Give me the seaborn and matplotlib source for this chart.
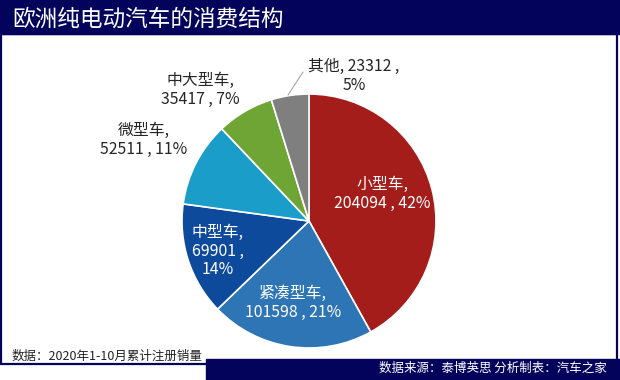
import matplotlib
matplotlib.use("Agg")
import matplotlib.pyplot as plt
from matplotlib.patches import Rectangle
import seaborn as sns

# ---- data ----
categories = ["小型车", "紧凑型车", "中型车", "微型车", "中大型车", "其他"]
values = [204094, 101598, 69901, 52511, 35417, 23312]
percents = ["42%", "21%", "14%", "11%", "7%", "5%"]
title = "欧洲纯电动汽车的消费结构"
note_left = "数据：2020年1-10月累计注册销量"
note_right = "数据来源：泰博英思 分析制表：汽车之家"

# ---- style ----
sns.set_theme(style="white")
plt.rcParams['font.family'] = ['Noto Sans CJK SC', 'DejaVu Sans']

colors = sns.color_palette(["#A51D1A", "#2E75B6", "#0D4A9B", "#1A9DC8", "#6EA535", "#7F7F7F"])
navy = "#03035B"

W, H = 620, 380
fig = plt.figure(figsize=(W / 100, H / 100), dpi=100)
fig.patch.set_facecolor("white")

def px(x, y):
    return x / W, 1 - y / H

# background frame
fig.add_artist(Rectangle(px(0, 34), 1, 34 / H, transform=fig.transFigure, color=navy, zorder=0))
fig.add_artist(Rectangle(px(1, 364), 616 / W, (364 - 34) / H, transform=fig.transFigure,
                         facecolor="none", edgecolor=navy, linewidth=1.6, zorder=0))
fig.add_artist(Rectangle(px(206, 380), (W - 206) / W, 21 / H, transform=fig.transFigure,
                         color=navy, zorder=1))

fig.text(*px(12, 19), title, color="white", fontsize=16.3, ha="left", va="center")
fig.text(*px(12, 356), note_left, color="#222222", fontsize=9, ha="left", va="center")
fig.text(*px(607, 368), note_right, color="white", fontsize=9, ha="right", va="center", zorder=2)

# pie axes: full figure, 1 data unit = radius (127 px), center at (309, 221)
cx, cy, R = 309, 221, 127
ax = fig.add_axes([0, 0, 1, 1])
ax.patch.set_alpha(0)
ax.pie(values, colors=colors, startangle=90, counterclock=False,
       wedgeprops=dict(edgecolor="white", linewidth=1.2))
ax.set_xlim(-cx / R, (W - cx) / R)
ax.set_ylim((cy - H) / R, cy / R)
ax.set_aspect("equal")
ax.axis("off")

# label layout (positions in pie-radius units)
label_pos = [(0.575, 0.213), (-0.126, -0.646), (-0.717, -0.236),
             (-1.30, 0.638), (-0.858, 1.035), (0.354, 1.142)]
label_fmt = ["{c},\n{v} , {p}", "{c},\n{v} , {p}", "{c},\n{v} ,\n{p}",
             "{c},\n{v} , {p}", "{c},\n{v} , {p}", "{c}, {v} ,\n{p}"]
label_col = ["white", "white", "white", "#262626", "#262626", "#262626"]
for c, v, p, pos, fmt, col in zip(categories, values, percents, label_pos, label_fmt, label_col):
    ax.text(pos[0], pos[1], fmt.format(c=c, v=v, p=p), ha="center", va="center",
            fontsize=11.4, color=col, linespacing=1.15)

# leader line for 其他
ax.plot([-0.047, -0.165], [1.173, 0.992], color="#A6A6A6", linewidth=0.8)

fig.savefig("out.png", dpi=100)
